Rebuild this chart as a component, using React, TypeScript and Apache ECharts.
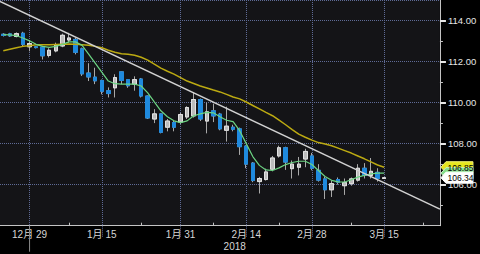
import React, { useEffect, useRef } from "react";
import * as echarts from "echarts";

// weekday categories (MM-DD), 2017-12-25 .. 2018-03-27
const categories = [
  "12-25", "12-26", "12-27", "12-28", "12-29",
  "01-01", "01-02", "01-03", "01-04", "01-05",
  "01-08", "01-09", "01-10", "01-11", "01-12",
  "01-15", "01-16", "01-17", "01-18", "01-19",
  "01-22", "01-23", "01-24", "01-25", "01-26",
  "01-29", "01-30", "01-31", "02-01", "02-02",
  "02-05", "02-06", "02-07", "02-08", "02-09",
  "02-12", "02-13", "02-14", "02-15", "02-16",
  "02-19", "02-20", "02-21", "02-22", "02-23",
  "02-26", "02-27", "02-28", "03-01", "03-02",
  "03-05", "03-06", "03-07", "03-08", "03-09",
  "03-12", "03-13", "03-14", "03-15", "03-16",
  "03-19", "03-20", "03-21", "03-22", "03-23",
  "03-26", "03-27",
];

const labelDates = ["12-29", "01-15", "01-31", "02-14", "02-28", "03-15"];
const minorTickDates = ["01-08", "01-23", "02-07", "02-21", "03-08", "03-23"];
const yearMarkDate = "12-29";
const yearLabel = "2018";

const opens = [
  113.33, 113.35, 113.22, 113.38, 112.72, 112.72, 112.7, 112.3, 112.52, 112.76,
  113.05, 113.08, 112.62, 111.44, 111.24, 111.08, 110.58, 110.72, 111.5, 111.12,
  110.9, 111.15, 110.32, 109.2, 109.45, 108.8, 109.03, 109.05, 109.3, 109.35,
  110.15, 109.1, 109.6, 109.44, 108.65, 108.8, 108.72, 107.88, 107.05, 106.15,
  106.25, 106.75, 107.4, 107.8, 106.78, 106.85, 107.25, 107.4, 106.7, 106.28,
  105.75, 106.25, 105.95, 106.05, 106.22, 106.8, 106.45, 106.6, 106.3,
];
const closes = [
  113.27, 113.25, 113.36, 112.84, 112.88, 112.68, 112.28, 112.55, 112.82, 113.28,
  113.15, 112.45, 111.4, 111.25, 111.06, 110.55, 110.44, 111.22, 111.08, 110.82,
  111.12, 110.32, 109.25, 109.45, 108.55, 109.1, 108.8, 109.42, 109.76, 110.15,
  109.2, 109.55, 109.35, 108.72, 108.85, 108.7, 107.85, 107.0, 106.2, 106.3,
  106.62, 107.3, 107.8, 107.1, 107.0, 107.0, 107.62, 106.8, 106.22, 105.75,
  106.05, 106.12, 106.1, 106.28, 106.8, 106.45, 106.65, 106.3, 106.34,
];
const lows = [
  113.22, 113.2, 113.18, 112.75, 112.5, 112.64, 112.1, 112.2, 112.45, 112.7,
  112.92, 112.35, 111.3, 111.05, 110.9, 110.4, 110.25, 110.25, 110.9, 110.72,
  110.58, 110.25, 109.2, 109.0, 108.5, 108.6, 108.6, 108.95, 109.2, 109.27,
  109.1, 108.5, 109.05, 108.65, 108.1, 108.6, 107.45, 106.8, 106.12, 105.57,
  106.2, 106.65, 107.32, 106.72, 106.3, 106.45, 106.85, 106.7, 106.15, 105.3,
  105.4, 106.0, 105.5, 105.95, 106.15, 106.3, 106.3, 106.15, 106.28,
];
const highs = [
  113.38, 113.4, 113.42, 113.45, 113.0, 112.76, 112.76, 112.65, 112.92, 113.36,
  113.4, 113.16, 112.68, 111.92, 111.7, 111.12, 110.74, 111.38, 111.52, 111.15,
  111.28, 111.2, 110.35, 109.68, 109.48, 109.2, 109.1, 109.5, 109.82, 110.5,
  110.2, 110.0, 109.95, 109.5, 109.8, 108.92, 108.78, 107.92, 107.1, 106.38,
  106.78, 107.4, 107.9, 107.85, 107.18, 107.35, 107.75, 107.55, 107.0, 106.38,
  106.2, 106.35, 106.3, 106.35, 107.0, 107.05, 107.3, 106.8, 106.36,
];

// short moving average (green)
const maFast = [
  113.31, 113.3, 113.26, 113.15, 113.01, 112.84, 112.74, 112.69, 112.74, 112.84,
  112.96, 112.96, 112.79, 112.36, 111.92, 111.48, 111.05, 110.92, 110.9, 110.9,
  110.9, 110.81, 110.47, 110.03, 109.6, 109.31, 109.11, 109.02, 109.11, 109.36,
  109.45, 109.52, 109.5, 109.31, 109.14, 109.07, 108.63, 108.0, 107.37, 106.94,
  106.72, 106.69, 106.82, 106.98, 107.08, 107.14, 107.14, 106.98, 106.69, 106.4,
  106.21, 106.14, 106.13, 106.24, 106.37, 106.45, 106.53, 106.56, 106.56,
];
// long moving average (yellow)
const maSlow = [
  112.53, 112.6, 112.67, 112.74, 112.77, 112.82, 112.82, 112.82, 112.83, 112.84,
  112.85, 112.84, 112.82, 112.79, 112.74, 112.67, 112.55, 112.45, 112.38, 112.36,
  112.31, 112.21, 112.07, 111.87, 111.68, 111.53, 111.39, 111.22, 111.05, 110.93,
  110.81, 110.71, 110.61, 110.52, 110.4, 110.27, 110.18, 110.03, 109.86, 109.69,
  109.52, 109.36, 109.14, 108.92, 108.68, 108.46, 108.31, 108.17, 108.05, 107.98,
  107.9, 107.78, 107.66, 107.54, 107.4, 107.26, 107.11, 106.96, 106.85,
];

// trend line endpoints: [category position, price]
const trendX = [-0.5, 66.5];
const trendY = [114.93, 104.81];

const yMin = 104;
const yMax = 115;
const yStep = 2;
const yMinorTicks = [105, 107, 109, 111, 113];

const GRID = "#5f6b96";
const AXIS = "#c4c4c4";
const FONT = "'Liberation Sans', 'Noto Sans CJK JP', sans-serif";

function fmtDate(c: string) {
  const [m, d] = c.split("-");
  return `${parseInt(m, 10)}月 ${d}`;
}

export default function App() {
  const ref = useRef<HTMLDivElement>(null);

  useEffect(() => {
    document.body.style.margin = "0";
    document.body.style.background = "#000";
    const chart = echarts.init(ref.current!, null, { renderer: "svg" });

    const xMin = -0.5;
    const xMax = categories.length - 0.5;
    const labelIdx = labelDates.map((d) => categories.indexOf(d));
    const minorIdx = minorTickDates.map((d) => categories.indexOf(d));

    const wickData = opens.map((o, i) => [i, o, closes[i], lows[i], highs[i]]);
    const bodyData = opens.map((o, i) => [
      i,
      o,
      closes[i],
      Math.min(o, closes[i]),
      Math.max(o, closes[i]),
    ]);

    const dotted = { color: GRID, width: 1, type: "dotted" };

    const option: any = {
      animation: false,
      backgroundColor: "#000",
      grid: {
        left: -4,
        right: 38.3,
        top: -1.67,
        bottom: 28.3,
        show: true,
        backgroundColor: "#141417",
        borderWidth: 0,
        z: -1,
      },
      xAxis: [
        {
          type: "value",
          min: xMin,
          max: xMax,
          position: "bottom",
          z: 1,
          axisLine: { show: true, onZero: false, lineStyle: { color: AXIS, width: 1 } },
          axisTick: {
            show: true,
            customValues: labelIdx,
            length: 12,
            lineStyle: dotted,
          },
          axisLabel: {
            show: true,
            customValues: labelIdx,
            formatter: (v: number) => fmtDate(categories[Math.round(v)]),
            color: "#d6d6d6",
            fontSize: 10,
            fontFamily: FONT,
            margin: 4,
          },
          splitLine: { show: true, lineStyle: dotted },
        },
        {
          type: "value",
          min: xMin,
          max: xMax,
          position: "bottom",
          offset: 0,
          axisLine: { show: false, onZero: false },
          axisTick: {
            show: true,
            customValues: minorIdx,
            inside: true,
            length: 3,
            lineStyle: { color: AXIS },
          },
          axisLabel: { show: false },
          splitLine: { show: false },
        },
      ],
      yAxis: [
        {
          type: "value",
          position: "right",
          min: yMin,
          max: yMax,
          interval: yStep,
          z: 1,
          axisLine: { show: true, onZero: false, lineStyle: { color: AXIS } },
          axisTick: { show: true, length: 6, lineStyle: { color: "#e6e6e6", width: 2 } },
          axisLabel: {
            color: "#e6e6e6",
            fontSize: 9.5,
            fontFamily: FONT,
            margin: 8,
            showMinLabel: false,
            showMaxLabel: false,
            formatter: (v: number) => v.toFixed(2),
          },
          splitLine: { show: true, lineStyle: dotted },
        },
        {
          type: "value",
          position: "right",
          min: yMin,
          max: yMax,
          axisLine: { show: false, onZero: false },
          axisTick: {
            show: true,
            customValues: yMinorTicks,
            length: 3,
            lineStyle: { color: AXIS },
          },
          axisLabel: { show: false },
          splitLine: { show: false },
        },
      ],
      series: [
        {
          name: "wicks",
          type: "candlestick",
          xAxisIndex: 0,
          yAxisIndex: 0,
          barWidth: 4,
          z: 3,
          data: wickData,
          itemStyle: {
            color: "rgba(0,0,0,0)",
            color0: "rgba(0,0,0,0)",
            borderColor: "#a8a8a8",
            borderColor0: "#a8a8a8",
            borderWidth: 1,
          },
        },
        {
          name: "bodies",
          type: "candlestick",
          xAxisIndex: 0,
          yAxisIndex: 0,
          barWidth: 4,
          z: 3,
          data: bodyData,
          itemStyle: {
            color: "#bcbcbc",
            color0: "#1f8ade",
            borderColor: "#e2e2e2",
            borderColor0: "#1f8ade",
            borderWidth: 1,
          },
        },
        {
          name: "slow",
          type: "line",
          xAxisIndex: 0,
          yAxisIndex: 0,
          symbol: "none",
          z: 4,
          data: maSlow.map((v, i) => [i, v]),
          lineStyle: { color: "#bcaa12", width: 1.5 },
        },
        {
          name: "fast",
          type: "line",
          xAxisIndex: 0,
          yAxisIndex: 0,
          symbol: "none",
          z: 4,
          data: maFast.map((v, i) => [i, v]),
          lineStyle: { color: "#6cd483", width: 1.2 },
        },
        {
          name: "trend",
          type: "line",
          xAxisIndex: 0,
          yAxisIndex: 0,
          symbol: "none",
          z: 5,
          data: trendX.map((x, i) => [x, trendY[i]]),
          lineStyle: { color: "#d2d2d2", width: 1.5 },
        },
      ],
    };

    chart.setOption(option);

    const axX = chart.convertToPixel({ xAxisIndex: 0 }, xMax) as number;
    const baseY = chart.convertToPixel({ yAxisIndex: 0 }, yMin) as number;
    const yearX = chart.convertToPixel(
      { xAxisIndex: 0 },
      categories.indexOf(yearMarkDate)
    ) as number;

    const tag = (value: number, bg: string, stroke: string, showText: boolean) => {
      const y = chart.convertToPixel({ yAxisIndex: 0 }, value) as number;
      const els: any[] = [
        {
          type: "polygon",
          z: 100,
          shape: {
            points: [
              [axX + 1, y],
              [axX + 6, y - 5.5],
              [axX + 33, y - 5.5],
              [axX + 33, y + 5.5],
              [axX + 6, y + 5.5],
            ],
          },
          style: { fill: bg, stroke, lineWidth: 1 },
        },
      ];
      if (showText) {
        els.push({
          type: "text",
          z: 101,
          x: axX + 7.5,
          y: y + 0.5,
          style: {
            text: value.toFixed(2),
            fill: "#000",
            fontSize: 8.5,
            fontFamily: FONT,
            verticalAlign: "middle",
            align: "left",
          },
        });
      }
      return els;
    };

    const last = closes.length - 1;
    chart.setOption({
      graphic: [
        {
          type: "line",
          z: 50,
          shape: { x1: yearX, y1: baseY, x2: yearX, y2: baseY + 26 },
          style: { stroke: "#8a8a8a", lineWidth: 1 },
        },
        {
          type: "text",
          z: 50,
          x: (yearX + axX) / 2,
          y: baseY + 21,
          style: {
            text: yearLabel,
            fill: "#d6d6d6",
            fontSize: 10,
            fontFamily: FONT,
            align: "center",
            verticalAlign: "middle",
          },
        },
        ...tag(maSlow[last], "#e6e61e", "#f4f47a", true),
        ...tag(maFast[last], "#86dc8a", "#c8f0c8", false),
        ...tag(closes[last], "#ffffff", "#ffffff", true),
      ],
    });

    return () => chart.dispose();
  }, []);

  return (
    <div
      ref={ref}
      style={{ position: "absolute", left: 0, top: 0, width: 480, height: 254 }}
    />
  );
}
